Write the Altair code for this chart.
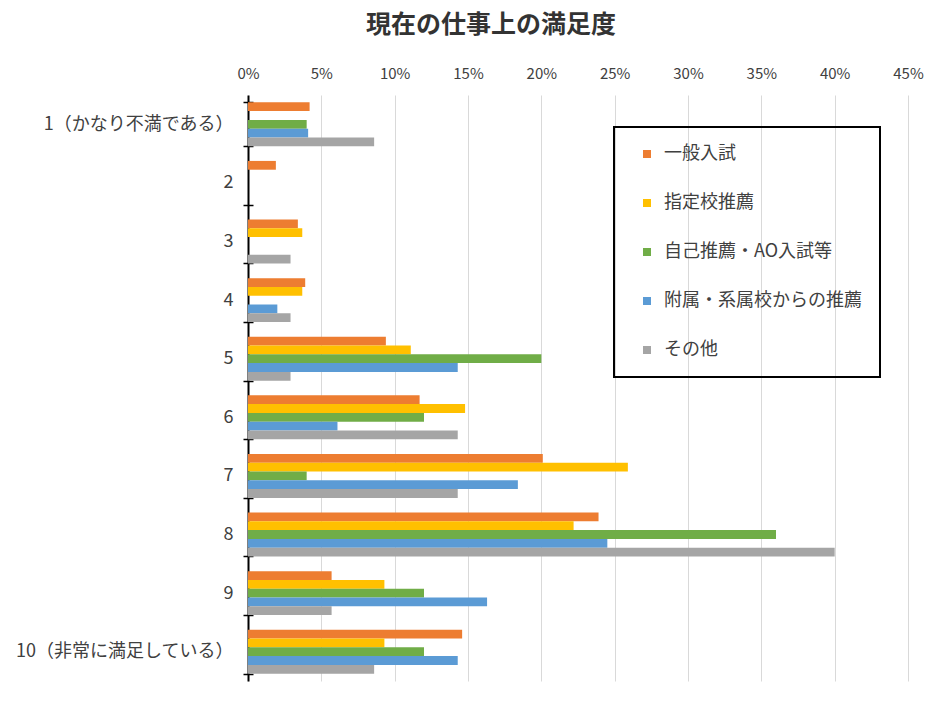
import altair as alt
import pandas as pd

categories = ["1（かなり不満である）", "2", "3", "4", "5", "6", "7", "8", "9", "10（非常に満足している）"]
series = ["一般入試", "指定校推薦", "自己推薦・AO入試等", "附属・系属校からの推薦", "その他"]
colors = ["#ED7D31", "#FFC000", "#70AD47", "#5B9BD5", "#A5A5A5"]

general = [4.2, 1.9, 3.4, 3.9, 9.4, 11.7, 20.1, 23.9, 5.7, 14.6]
designated = [0, 0, 3.7, 3.7, 11.1, 14.8, 25.9, 22.2, 9.3, 9.3]
self_ao = [4.0, 0, 0, 0, 20.0, 12.0, 4.0, 36.0, 12.0, 12.0]
affiliated = [4.1, 0, 0, 2.0, 14.3, 6.1, 18.4, 24.5, 16.3, 14.3]
other = [8.6, 0, 2.9, 2.9, 2.9, 14.3, 14.3, 40.0, 5.7, 8.6]

x_ticks = [0, 5, 10, 15, 20, 25, 30, 35, 40, 45]

rows = []
for s, vals in zip(series, [general, designated, self_ao, affiliated, other]):
    for c, v in zip(categories, vals):
        rows.append({"cat": c, "series": s, "value": v})
df = pd.DataFrame(rows)

FONT = "Noto Sans CJK JP"
W, H = 660, 586

yscale = alt.Scale(domain=categories, paddingInner=0.25, paddingOuter=0.125)

bars = alt.Chart(df).mark_bar().encode(
    x=alt.X("value:Q",
            scale=alt.Scale(domain=[0, 45], nice=False),
            axis=alt.Axis(orient="top", values=x_ticks, labelExpr="datum.value + '%'",
                          title=None, domain=False, ticks=False, tickSize=0,
                          labelPadding=14, labelFontSize=15, labelColor="#404040",
                          labelFont=FONT, labelFlush=False,
                          grid=True, gridColor="#D9D9D9", gridWidth=1)),
    y=alt.Y("cat:N", sort=categories, scale=yscale,
            axis=alt.Axis(orient="left", title=None, tickBand="extent", tickSize=5,
                          tickColor="#000000", tickWidth=1.5, domainColor="#000000",
                          domainWidth=2, labelPadding=10, labelFontSize=18, labelLimit=0,
                          labelColor="#404040", labelFont=FONT, grid=False)),
    yOffset=alt.YOffset("series:N", sort=series, scale=alt.Scale(domain=series, paddingInner=0, paddingOuter=0)),
    color=alt.Color("series:N", sort=series,
                    scale=alt.Scale(domain=series, range=colors),
                    legend=alt.Legend(title=None, orient="none", legendX=366, legendY=32,
                                      symbolType="square", symbolSize=64, symbolOffset=6,
                                      labelFontSize=18, labelFont=FONT, labelColor="#404040",
                                      labelLimit=0, rowPadding=31, padding=18, labelOffset=8,
                                      strokeColor="#000000")),
)

ghost = alt.Chart(df).mark_tick(opacity=0).encode(
    y=alt.Y("cat:N", sort=categories, scale=yscale,
            axis=alt.Axis(orient="right", offset=-W, title=None, tickBand="extent",
                          tickSize=5, tickColor="#000000", tickWidth=1.5,
                          domain=False, labels=False, grid=False)),
)

chart = alt.layer(bars, ghost).resolve_axis(y="independent").properties(
    width=W, height=H,
    title=alt.TitleParams("現在の仕事上の満足度", font=FONT, fontSize=25, fontWeight="bold",
                          color="#333333", anchor="middle", dx=-87, offset=28),
    autosize=alt.AutoSizeParams(type="none"),
    padding={"left": 248, "top": 95, "right": 25, "bottom": 24},
).configure_view(stroke=None).configure_legend(strokeWidth=2)

chart.save("out.html", embed_options={"renderer": "svg", "actions": False})
